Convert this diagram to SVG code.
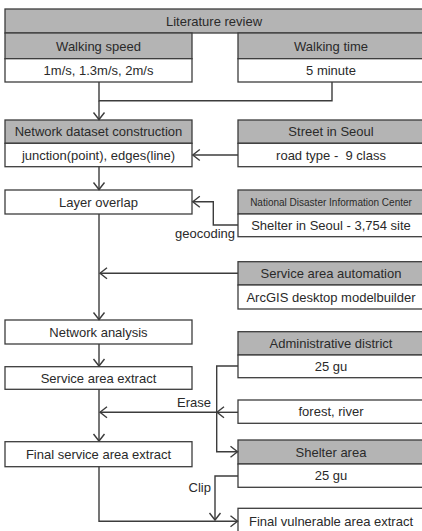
<svg xmlns="http://www.w3.org/2000/svg" width="422" height="531" viewBox="0 0 422 531">
<defs>
<style>
.h{fill:#b4b4b4;stroke:#3c3c3c;stroke-width:1.3}
.w{fill:#ffffff;stroke:#3c3c3c;stroke-width:1.3}
text{font-family:"Liberation Sans",Arial,sans-serif;font-size:13px;fill:#2a2a2a;text-anchor:middle}
.s{font-size:10px}
.l{text-anchor:end}
.c{fill:none;stroke:#3c3c3c;stroke-width:1.4}
.a{marker-end:url(#ar)}
</style>
<marker id="ar" markerUnits="userSpaceOnUse" markerWidth="12" markerHeight="14" viewBox="-9 -7 12 14" refX="0" refY="0" orient="auto">
<path d="M-7,-5.5 L0,0 L-7,5.5" fill="none" stroke="#3c3c3c" stroke-width="1.4"/>
</marker>
</defs>
<rect width="422" height="531" fill="#fff"/>
<g id="literature-review">
<rect class="h" x="5" y="9" width="420" height="24"/>
<text x="214" y="25.5">Literature review</text>
</g>
<g id="walking-speed">
<rect class="h" x="5" y="33" width="187" height="25.7"/>
<text x="98.5" y="50.5">Walking speed</text>
<rect class="w" x="5" y="58.7" width="187" height="23.3"/>
<text x="98.5" y="75">1m/s, 1.3m/s, 2m/s</text>
</g>
<g id="walking-time">
<rect class="h" x="238" y="33" width="187" height="25.7"/>
<text x="331" y="50.5">Walking time</text>
<rect class="w" x="238" y="58.7" width="187" height="23.3"/>
<text x="331" y="75">5 minute</text>
</g>
<g id="network-dataset">
<rect class="h" x="5" y="120" width="187" height="23.3"/>
<text x="98.5" y="136.2">Network dataset construction</text>
<rect class="w" x="5" y="143.3" width="187" height="23.4"/>
<text x="98.5" y="159.5">junction(point), edges(line)</text>
</g>
<g id="street-seoul">
<rect class="h" x="238" y="120" width="187" height="23.3"/>
<text x="331" y="136.2">Street in Seoul</text>
<rect class="w" x="238" y="143.3" width="187" height="23.4"/>
<text x="331" y="159.5">road type - &#160;9 class</text>
</g>
<g id="layer-overlap">
<rect class="w" x="5" y="190" width="187" height="24"/>
<text x="98.5" y="206.5">Layer overlap</text>
</g>
<g id="ndic">
<rect class="h" x="238" y="190" width="187" height="24"/>
<text class="s" x="331" y="205.5">National Disaster Information Center</text>
<rect class="w" x="238" y="214" width="187" height="22.7"/>
<text x="331" y="229.8">Shelter in Seoul - 3,754 site</text>
</g>
<g id="service-area-automation">
<rect class="h" x="238" y="261.7" width="187" height="23.3"/>
<text x="331" y="277.8">Service area automation</text>
<rect class="w" x="238" y="285" width="187" height="24"/>
<text x="331" y="301.5">ArcGIS desktop modelbuilder</text>
</g>
<g id="network-analysis">
<rect class="w" x="5" y="320" width="187" height="24"/>
<text x="98.5" y="336.5">Network analysis</text>
</g>
<g id="administrative-district">
<rect class="h" x="238" y="331.7" width="187" height="23.3"/>
<text x="331" y="347.8">Administrative district</text>
<rect class="w" x="238" y="355" width="187" height="22.7"/>
<text x="331" y="370.8">25 gu</text>
</g>
<g id="service-area-extract">
<rect class="w" x="5" y="366.7" width="187" height="22.6"/>
<text x="98.5" y="382.5">Service area extract</text>
</g>
<g id="forest-river">
<rect class="w" x="238" y="400" width="187" height="23.3"/>
<text x="331" y="416.2">forest, river</text>
</g>
<g id="final-service-area">
<rect class="w" x="5" y="441.7" width="187" height="25"/>
<text x="98.5" y="458.7">Final service area extract</text>
</g>
<g id="shelter-area">
<rect class="h" x="238" y="440" width="187" height="24"/>
<text x="331" y="456.5">Shelter area</text>
<rect class="w" x="238" y="464" width="187" height="23.3"/>
<text x="331" y="480.2">25 gu</text>
</g>
<g id="final-vulnerable">
<rect class="w" x="238" y="508.3" width="187" height="30"/>
<text x="331" y="526">Final vulnerable area extract</text>
</g>
<g id="connectors">
<path class="c" d="M99,82 V100.7 H332 V82"/>
<path class="c a" d="M99,100.7 V119.5"/>
<path class="c a" d="M238,155 H192.8"/>
<path class="c a" d="M99,166.7 V189.5"/>
<path class="c a" d="M238,225 H213.3 V201.7 H192.8"/>
<path class="c a" d="M99,214 V319.5"/>
<path class="c a" d="M238,273.3 H100"/>
<path class="c a" d="M99,344 V366"/>
<path class="c a" d="M238,366 H216.7 V451.7 H237.5"/>
<path class="c a" d="M238,412.3 H217"/>
<path class="c a" d="M216.7,412.3 H100"/>
<path class="c a" d="M99,389.3 V441"/>
<path class="c a" d="M238,476 H215 V520"/>
<path class="c a" d="M99,466.7 V521.3 H237.5"/>
<text class="l" x="235" y="237.5">geocoding</text>
<text class="l" x="211" y="406.5">Erase</text>
<text class="l" x="211" y="491.5">Clip</text>
</g>
</svg>
